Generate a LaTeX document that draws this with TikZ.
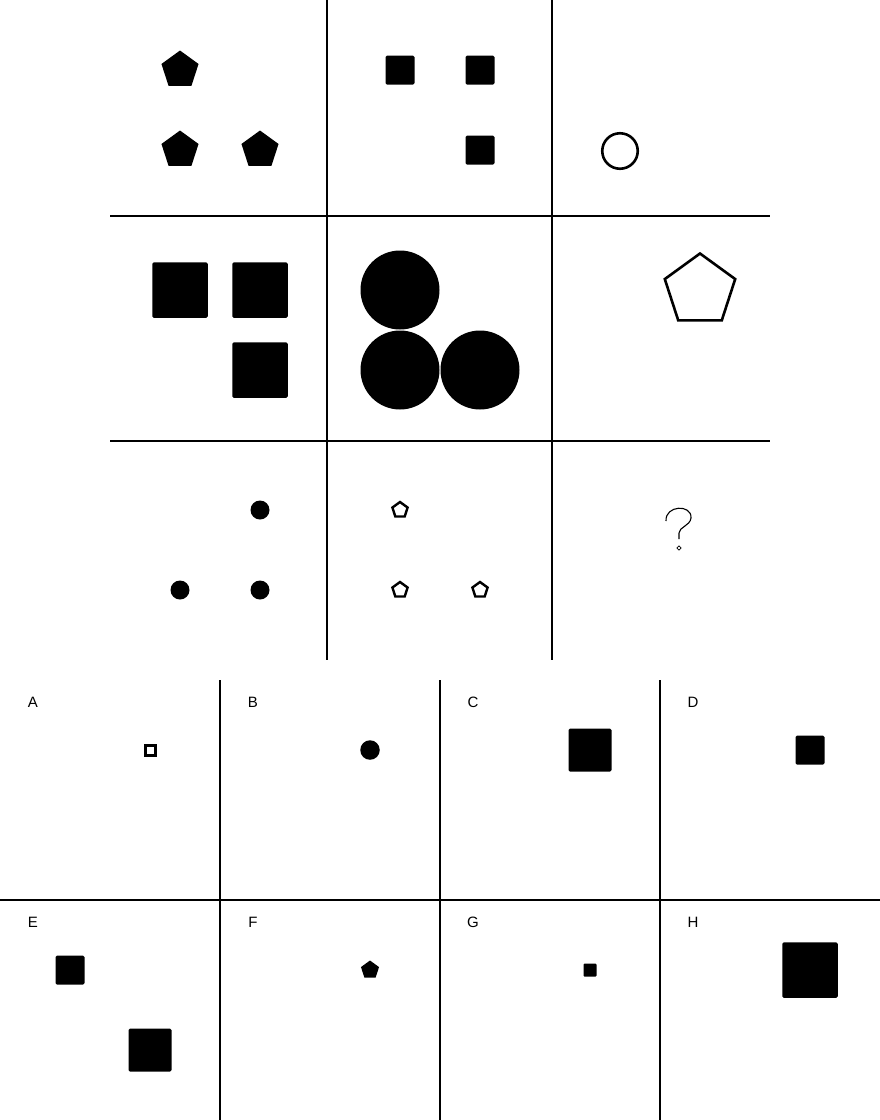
\documentclass[tikz,border=0pt]{standalone}
\usepackage{fontspec}
\setmainfont{Liberation Sans}
\usetikzlibrary{shapes.geometric}
\tikzset{
  grid/.style={line width=2pt, black},
  pentF/.style={regular polygon, regular polygon sides=5, fill=black, inner sep=0pt, outer sep=0pt},
  pentO/.style={regular polygon, regular polygon sides=5, draw=black, line width=2.6pt, inner sep=0pt, outer sep=0pt},
  sqF/.style={rectangle, fill=black, rounded corners=1.5pt, inner sep=0pt, outer sep=0pt},
  sqO/.style={rectangle, draw=black, line width=2.8pt, inner sep=0pt, outer sep=0pt},
  dotF/.style={circle, fill=black, inner sep=0pt, outer sep=0pt},
  circO/.style={circle, draw=black, line width=2.6pt, inner sep=0pt, outer sep=0pt},
  lbl/.style={font=\fontsize{15}{15}\selectfont, inner sep=0pt, anchor=center},
}
\begin{document}
\begin{tikzpicture}[x=1pt, y=-1pt]
\useasboundingbox (0,0) rectangle (880,1120);
% main grid
\coordinate (v1t) at (327,0); \coordinate (v1b) at (327,660);
\coordinate (v2t) at (552,0); \coordinate (v2b) at (552,660);
\coordinate (h1l) at (110,216); \coordinate (h1r) at (770,216);
\coordinate (h2l) at (110,441); \coordinate (h2r) at (770,441);
\draw[grid] (v1t) -- (v1b);
\draw[grid] (v2t) -- (v2b);
\draw[grid] (h1l) -- (h1r);
\draw[grid] (h2l) -- (h2r);
% answer grid
\coordinate (a0) at (0,900); \coordinate (a1) at (880,900);
\coordinate (b1t) at (220,680); \coordinate (b1b) at (220,1120);
\coordinate (b2t) at (440,680); \coordinate (b2b) at (440,1120);
\coordinate (b3t) at (660,680); \coordinate (b3b) at (660,1120);
\draw[grid] (a0) -- (a1);
\draw[grid] (b1t) -- (b1b);
\draw[grid] (b2t) -- (b2b);
\draw[grid] (b3t) -- (b3b);
% row 1
\node[pentF, minimum size=39pt] (p11a) at (180,70) {};
\node[pentF, minimum size=39pt] (p11b) at (180,150) {};
\node[pentF, minimum size=39pt] (p11c) at (260,150) {};
\node[sqF, minimum size=29pt] (s12a) at (400,70) {};
\node[sqF, minimum size=29pt] (s12b) at (480,70) {};
\node[sqF, minimum size=29pt] (s12c) at (480,150) {};
\node[circO, minimum size=35.5pt] (c13) at (620,151) {};
% row 2
\node[sqF, minimum size=55.5pt] (s21a) at (180,290) {};
\node[sqF, minimum size=55.5pt] (s21b) at (260,290) {};
\node[sqF, minimum size=55.5pt] (s21c) at (260,370) {};
\node[dotF, minimum size=79pt] (c22a) at (400,290) {};
\node[dotF, minimum size=79pt] (c22b) at (400,370) {};
\node[dotF, minimum size=79pt] (c22c) at (480,370) {};
\node[pentO, minimum size=74pt] (p23) at (700,290.5) {};
% row 3
\node[dotF, minimum size=19pt] (d31a) at (260,510) {};
\node[dotF, minimum size=19pt] (d31b) at (180,590) {};
\node[dotF, minimum size=19pt] (d31c) at (260,590) {};
\node[pentO, minimum size=16pt, line width=2.4pt] (p32a) at (400,510) {};
\node[pentO, minimum size=16pt, line width=2.4pt] (p32b) at (400,590) {};
\node[pentO, minimum size=16pt, line width=2.4pt] (p32c) at (480,590) {};
% question mark
\coordinate (q0) at (666,521);
\draw[line width=1.1pt] (q0) .. controls (665,505) and (692,504) .. (691,518) .. controls (690,526) and (679,527) .. (679,533) -- (679,539);
\node[diamond, draw=black, line width=0.8pt, minimum size=4.5pt, inner sep=0pt] (qd) at (679,548) {};
% labels
\node[lbl] (lA) at (33,702) {A};
\node[lbl] (lB) at (253,702) {B};
\node[lbl] (lC) at (473,702) {C};
\node[lbl] (lD) at (693,702) {D};
\node[lbl] (lE) at (33,922) {E};
\node[lbl] (lF) at (253,922) {F};
\node[lbl] (lG) at (473,922) {G};
\node[lbl] (lH) at (693,922) {H};
% options
\node[sqO, minimum size=9.5pt] (oA) at (150.5,750.5) {};
\node[dotF, minimum size=19.5pt] (oB) at (370,750) {};
\node[sqF, minimum size=43pt] (oC) at (590,750) {};
\node[sqF, minimum size=29pt] (oD) at (810,750) {};
\node[sqF, minimum size=29pt] (oE1) at (70,970) {};
\node[sqF, minimum size=43pt] (oE2) at (150,1050) {};
\node[pentF, minimum size=19pt] (oF) at (370,970) {};
\node[sqF, minimum size=13pt, rounded corners=1pt] (oG) at (590,970) {};
\node[sqF, minimum size=55.5pt] (oH) at (810,970) {};
\end{tikzpicture}
\end{document}
